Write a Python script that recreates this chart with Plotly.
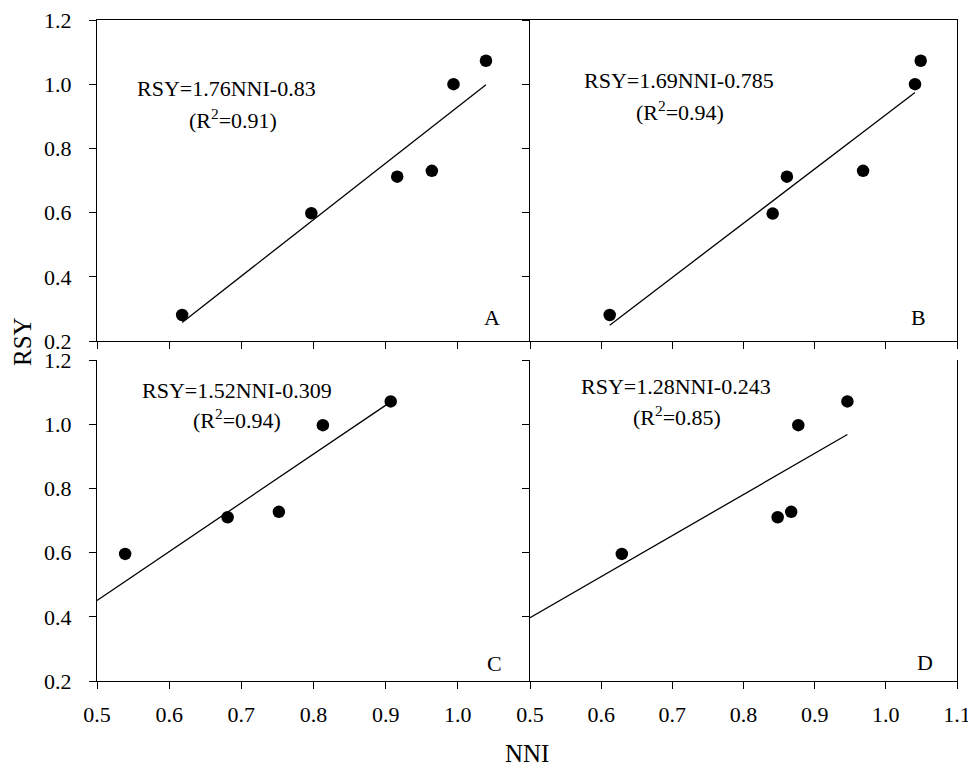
import plotly.graph_objects as go

# Observed NNI / RSY pairs for the four panels
nni_a = [0.618, 0.797, 0.916, 0.964, 0.994, 1.039]
rsy_a = [0.281, 0.598, 0.712, 0.730, 1.000, 1.073]
nni_b = [0.612, 0.841, 0.861, 0.968, 1.041, 1.049]
rsy_b = [0.281, 0.597, 0.712, 0.730, 1.000, 1.073]
nni_c = [0.539, 0.681, 0.752, 0.813, 0.907]
rsy_c = [0.596, 0.710, 0.727, 0.997, 1.071]
nni_d = [0.629, 0.848, 0.867, 0.877, 0.946]
rsy_d = [0.596, 0.710, 0.727, 0.997, 1.071]

# Regression fits: slope, intercept, R^2 and x extent of the fitted line
slopes = [1.76, 1.69, 1.52, 1.28]
intercepts = [-0.83, -0.785, -0.309, -0.243]
r2_values = ["0.91", "0.94", "0.94", "0.85"]
fit_x_ranges = [[0.618, 1.039], [0.612, 1.041], [0.5, 0.907], [0.5, 0.946]]
panel_letters = ["A", "B", "C", "D"]

x_ticks_left = [0.5, 0.6, 0.7, 0.8, 0.9, 1.0]
x_ticks_right = [0.5, 0.6, 0.7, 0.8, 0.9, 1.0, 1.1]
y_ticks = [0.2, 0.4, 0.6, 0.8, 1.0, 1.2]

FONT = "Liberation Serif, Times New Roman, serif"
W, H = 968, 764

points = [(nni_a, rsy_a), (nni_b, rsy_b), (nni_c, rsy_c), (nni_d, rsy_d)]
axes = [("x", "y"), ("x2", "y2"), ("x3", "y3"), ("x4", "y4")]

fig = go.Figure()
for i, ((xs, ys), (xa, ya)) in enumerate(zip(points, axes)):
    fig.add_trace(go.Scatter(
        x=xs, y=ys, mode="markers", xaxis=xa, yaxis=ya,
        marker=dict(color="black", size=12.5), showlegend=False, hoverinfo="x+y"))
    lx = fit_x_ranges[i]
    ly = [slopes[i] * v + intercepts[i] for v in lx]
    fig.add_trace(go.Scatter(
        x=lx, y=ly, mode="lines", xaxis=xa, yaxis=ya,
        line=dict(color="black", width=1.3), showlegend=False, hoverinfo="skip"))

# Panel domains in paper fractions
left_dom = [97 / W, 530 / W]
right_dom = [530 / W, 957 / W]
top_dom = [1 - 341 / H, 1 - 20 / H]
bot_dom = [1 - 681 / H, 1 - 360 / H]

common = dict(showline=True, linecolor="black", linewidth=1, showgrid=False,
              zeroline=False, ticks="outside", ticklen=7, tickwidth=1,
              tickcolor="black", automargin=False, ticklabeloverflow="allow",
              tickfont=dict(family=FONT, size=22, color="black"))
xcommon = dict(common, range=[0.5, 1.1], tickformat=".1f", ticklabelstandoff=7)
ycommon = dict(common, range=[0.2, 1.2], tickvals=y_ticks, tickformat=".1f",
               ticklabelstandoff=13)

fig.update_layout(
    width=W, height=H,
    margin=dict(l=0, r=0, t=0, b=0),
    paper_bgcolor="white", plot_bgcolor="white",
    xaxis=dict(xcommon, domain=left_dom, anchor="y", tickvals=x_ticks_left,
               showticklabels=False, mirror=True),
    yaxis=dict(ycommon, domain=top_dom, anchor="x"),
    xaxis2=dict(xcommon, domain=right_dom, anchor="y2", tickvals=x_ticks_right,
                showticklabels=False, mirror=True),
    yaxis2=dict(ycommon, domain=top_dom, anchor="x2", showticklabels=False, mirror=True),
    xaxis3=dict(xcommon, domain=left_dom, anchor="y3", tickvals=x_ticks_left),
    yaxis3=dict(ycommon, domain=bot_dom, anchor="x3"),
    xaxis4=dict(xcommon, domain=right_dom, anchor="y4", tickvals=x_ticks_right),
    yaxis4=dict(ycommon, domain=bot_dom, anchor="x4", showticklabels=False, mirror=True),
)

# Equation labels (two lines each) and panel letters, in data coordinates
eq_pos = [((0.680, 0.988), (0.688, 0.893)),
          ((0.709, 1.010), (0.711, 0.915)),
          ((0.694, 1.106), (0.694, 1.015)),
          ((0.705, 1.116), (0.706, 1.024))]
letter_pos = [(1.047, 0.272), (1.046, 0.272), (1.051, 0.254), (1.055, 0.259)]

annotations = []
for i, (xa, ya) in enumerate(axes):
    sign = "-" if intercepts[i] < 0 else "+"
    eq = f"RSY={slopes[i]:g}NNI{sign}{abs(intercepts[i]):g}"
    (x1, y1), (x2, y2) = eq_pos[i]
    annotations.append(dict(x=x1, y=y1, xref=xa, yref=ya, text=eq, showarrow=False,
                            xanchor="center", yanchor="middle",
                            font=dict(family=FONT, size=22, color="black")))
    annotations.append(dict(x=x2, y=y2, xref=xa, yref=ya,
                            text=f"(R<sup>2</sup>={r2_values[i]})", showarrow=False,
                            xanchor="center", yanchor="middle",
                            font=dict(family=FONT, size=22, color="black")))
    lxp, lyp = letter_pos[i]
    annotations.append(dict(x=lxp, y=lyp, xref=xa, yref=ya, text=panel_letters[i],
                            showarrow=False, xanchor="center", yanchor="middle",
                            font=dict(family=FONT, size=22, color="black")))

# Shared axis titles
annotations.append(dict(x=22 / W, y=1 - 342 / H, xref="paper", yref="paper", text="RSY",
                        textangle=-90, showarrow=False, xanchor="center", yanchor="middle",
                        font=dict(family=FONT, size=25, color="black")))
annotations.append(dict(x=527 / W, y=1 - 753 / H, xref="paper", yref="paper", text="NNI",
                        showarrow=False, xanchor="center", yanchor="middle",
                        font=dict(family=FONT, size=25, color="black")))
fig.update_layout(annotations=annotations)

fig.write_html("out.html")
